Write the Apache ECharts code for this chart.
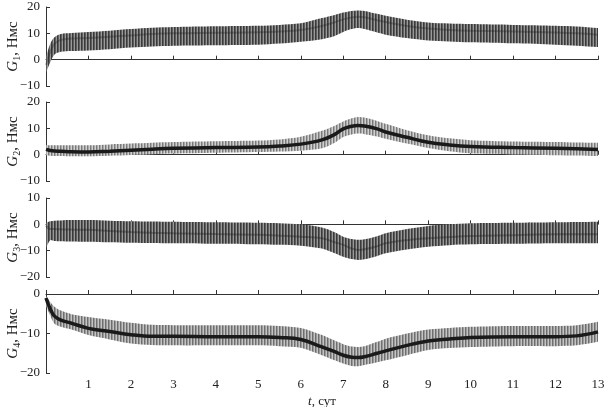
<!DOCTYPE html>
<html><head><meta charset="utf-8">
<script src="https://cdn.jsdelivr.net/npm/echarts@6/dist/echarts.min.js"></script>
<style>html,body{margin:0;padding:0;background:#fff}#c{width:607px;height:407px}</style>
</head><body><div id="c"></div>
<script>
const T = [0, 0.1, 0.2, 0.35, 0.6, 1, 1.5, 2, 2.5, 3, 4, 5, 5.5, 6, 6.5, 6.8, 7, 7.2, 7.35, 7.5, 7.8, 8, 8.5, 9, 9.5, 10, 11, 12, 12.5, 13];
const xTicks = [0,1,2,3,4,5,6,7,8,9,10,11,12,13];

const G1_upper = [1, 6, 8.5, 9.7, 10.1, 10.5, 11, 11.6, 12.1, 12.4, 12.7, 12.9, 13.2, 13.8, 15.8, 17, 17.9, 18.5, 18.7, 18.5, 17.4, 16.7, 15.2, 14.1, 13.7, 13.5, 13.2, 12.9, 12.6, 12.0];
const G1_lower = [-5, -1, 2, 3, 3.3, 3.5, 4, 4.6, 5.0, 5.3, 5.5, 5.7, 6.1, 6.8, 7.8, 9, 10.5, 11.6, 12, 11.6, 10.3, 9.5, 8.2, 7.3, 6.9, 6.6, 6.2, 5.7, 5.3, 4.8];
const G1_mid   = [-2, 3, 6, 7.5, 8, 8.2, 8.7, 9.2, 9.7, 10, 10.2, 10.4, 10.7, 11.3, 12.8, 14.2, 15.3, 16.0, 16.3, 16.1, 15, 14.3, 12.8, 11.8, 11.3, 11, 10.7, 10.3, 10, 9.5];

const G2_upper = [3.6, 3.6, 3.6, 3.6, 3.6, 3.6, 3.9, 4.2, 4.5, 4.8, 5.1, 5.4, 5.8, 6.8, 9.1, 11, 12.6, 13.8, 14.3, 14.1, 12.8, 11.7, 9.3, 7.4, 6.2, 5.5, 5.0, 4.8, 4.6, 4.5];
const G2_lower = [-0.2, -0.4, -0.5, -0.5, -0.6, -0.6, -0.4, -0.1, 0.2, 0.4, 0.7, 1.0, 1.2, 1.5, 2.4, 4.5, 6.7, 7.7, 8, 7.8, 6.9, 6, 4.2, 2.5, 1.3, 0.5, 0.1, -0.2, -0.3, -0.5];
const G2_mid   = [2.0, 1.6, 1.4, 1.3, 1.1, 1.0, 1.3, 1.7, 2.1, 2.4, 2.7, 2.9, 3.3, 4.0, 5.6, 7.7, 9.8, 10.8, 11.1, 10.9, 9.8, 8.6, 6.6, 4.7, 3.7, 3.1, 2.7, 2.4, 2.2, 2.0];

const G3_upper = [0.5, 1.2, 1.4, 1.5, 1.6, 1.6, 1.4, 1.2, 1.1, 1.0, 0.8, 0.6, 0.4, 0, -1.2, -3.0, -4.7, -5.6, -5.9, -5.7, -4.5, -3.4, -1.8, -0.6, 0, 0.4, 0.6, 0.8, 0.9, 1.0];
const G3_lower = [-9, -6, -6.3, -6.4, -6.5, -6.6, -6.8, -7.0, -7.1, -7.2, -7.4, -7.6, -7.8, -8.1, -9.2, -11, -12.3, -13.2, -13.5, -13.3, -12, -11, -9.6, -8.5, -7.9, -7.6, -7.4, -7.2, -7.2, -7.2];
const G3_mid   = [-0.5, -1.8, -1.8, -1.9, -2.0, -2.1, -2.5, -2.9, -3.2, -3.4, -3.7, -4.0, -4.3, -4.7, -5.3, -6.8, -7.8, -9.2, -9.7, -9.5, -8.3, -7.2, -6.0, -5.3, -4.8, -4.4, -4.1, -3.8, -3.8, -3.8];

const G4_upper = [-0.5, -2, -3.2, -4.2, -5.1, -5.8, -6.5, -7.3, -7.8, -7.9, -7.9, -7.9, -8.1, -8.6, -10.4, -11.8, -12.7, -13.3, -13.4, -13.2, -12.1, -11.3, -10, -9, -8.6, -8.3, -8.1, -8.1, -7.9, -7.0];
const G4_lower = [-3, -5.5, -7.5, -8.3, -9, -10.4, -11.5, -12.5, -12.9, -13, -13, -13, -13.2, -13.6, -15.5, -16.8, -17.6, -18.2, -18.3, -18, -17.3, -16.8, -15.5, -14.2, -13.7, -13.4, -13.2, -13.2, -13, -12.1];
const G4_mid   = [-1, -3.8, -5.6, -6.6, -7.4, -8.7, -9.5, -10.3, -10.7, -10.7, -10.8, -10.8, -11.0, -11.5, -13.4, -14.6, -15.5, -16.0, -16.1, -15.9, -15.0, -14.4, -13, -11.9, -11.4, -11, -10.8, -10.8, -10.6, -9.6];

const yRanges = [[-10, 20, 10], [-10, 20, 10], [-20, 10, 10], [-20, 0, 10]];
const yNames = ['1', '2', '3', '4'];

function stripes(cols) {
  const cv = document.createElement('canvas');
  cv.width = cols.length; cv.height = 4;
  const ctx = cv.getContext('2d');
  cols.forEach((c, i) => { ctx.fillStyle = c; ctx.fillRect(i, 0, 1, 4); });
  return cv;
}

const FONT = 'Liberation Serif';
const panels = [
  {u: G1_upper, l: G1_lower, m: G1_mid, pat: ['#3a3a3a', '#5e5e5e', '#9a9a9a'], lc: 'rgba(30,30,30,0.3)', lw: 2},
  {u: G2_upper, l: G2_lower, m: G2_mid, pat: ['#7a7a7a', '#a8a8a8', '#d0d0d0'], lc: '#1a1a1a', lw: 3.5},
  {u: G3_upper, l: G3_lower, m: G3_mid, pat: ['#3a3a3a', '#5e5e5e', '#9a9a9a'], lc: 'rgba(30,30,30,0.35)', lw: 2},
  {u: G4_upper, l: G4_lower, m: G4_mid, pat: ['#6e6e6e', '#9a9a9a', '#c4c4c4'], lc: '#1a1a1a', lw: 3.5}
];

const grids = [
  {left: 46, right: 9, top: 7, height: 79},
  {left: 46, right: 9, top: 102, height: 79},
  {left: 46, right: 9, top: 198, height: 79},
  {left: 46, right: 9, top: 294, height: 79}
].map(g => Object.assign(g, {outerBoundsMode: 'none', containLabel: false}));

const xAxes = grids.map((g, i) => ({
  type: 'value', gridIndex: i, min: 0, max: 13, interval: 1,
  axisLine: {lineStyle: {color: '#333', width: 1}},
  axisTick: {inside: true, length: 4, lineStyle: {color: '#333'}},
  splitLine: {show: false},
  axisLabel: {show: i === 3, color: '#222', fontFamily: FONT, fontSize: 13, margin: 5,
    formatter: v => v === 0 ? '' : String(v)},
  name: i === 3 ? '{i|t}, сут' : '',
  nameLocation: 'middle', nameGap: 22, nameMoveOverlap: false,
  nameTextStyle: {color: '#222', fontFamily: FONT, fontSize: 13,
    rich: {i: {fontStyle: 'italic', fontFamily: FONT, fontSize: 13, color: '#222'}}}
}));

const yAxes = grids.map((g, i) => ({
  type: 'value', gridIndex: i, min: yRanges[i][0], max: yRanges[i][1], interval: yRanges[i][2],
  axisLine: {show: true, lineStyle: {color: '#333', width: 1}},
  axisTick: {show: true, inside: true, length: 4, lineStyle: {color: '#333'}},
  splitLine: {show: false},
  axisLabel: {color: '#222', fontFamily: FONT, fontSize: 13, margin: 6,
    formatter: v => String(v).replace('-', '\u2212')},
  name: '{i|G}{s|' + yNames[i] + '}, Нмс',
  nameLocation: 'middle', nameGap: 24, nameRotate: 90, nameMoveOverlap: false,
  nameTextStyle: {color: '#222', fontFamily: FONT, fontSize: 15, lineHeight: 17,
    rich: {
      i: {fontStyle: 'italic', fontFamily: FONT, fontSize: 15, color: '#222', lineHeight: 17},
      s: {fontFamily: FONT, fontSize: 10, color: '#222', verticalAlign: 'bottom', lineHeight: 11, padding: [6, 0, 0, 0]}
    }}
}));

const series = [];
panels.forEach((p, i) => {
  const pattern = {type: 'pattern', image: stripes(p.pat), repeat: 'repeat'};
  series.push({
    type: 'custom', xAxisIndex: i, yAxisIndex: i, silent: true, animation: false,
    data: [[T[0], p.l[0]], [T[T.length - 1], p.u[T.length - 1]]],
    renderItem: function (params, api) {
      if (params.dataIndex !== 0) return null;
      const n = T.length;
      const pts = [];
      const up = T.map((t, k) => api.coord([t, p.u[k]]));
      const lo = T.map((t, k) => api.coord([t, p.l[k]]));
      pts.push(up[0]);
      for (let k = 0; k < n; k++) pts.push(up[k]);
      pts.push(up[n - 1]);
      pts.push(lo[n - 1]);
      for (let k = n - 1; k >= 0; k--) pts.push(lo[k]);
      pts.push(lo[0]);
      return {type: 'polygon', shape: {points: pts, smooth: 0.3}, style: {fill: pattern}};
    }
  });
  series.push({
    type: 'line', xAxisIndex: i, yAxisIndex: i,
    data: T.map((t, k) => [t, p.m[k]]), smooth: 0.4, symbol: 'none',
    lineStyle: {color: p.lc, width: p.lw}, silent: true, animation: false
  });
});

const chart = echarts.init(document.getElementById('c'), null, {renderer: 'canvas'});
chart.setOption({
  backgroundColor: '#fff', animation: false,
  grid: grids, xAxis: xAxes, yAxis: yAxes, series: series
});
</script></body></html>
